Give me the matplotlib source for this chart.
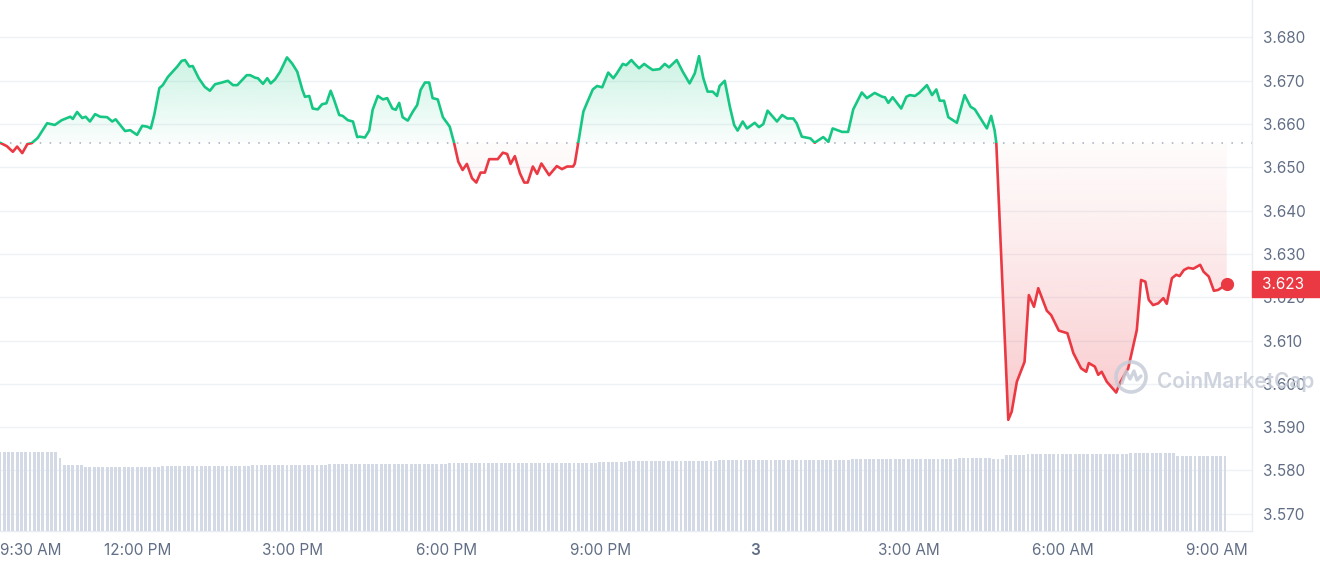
import numpy as np
import pandas as pd
import matplotlib
matplotlib.use("Agg")
import matplotlib.pyplot as plt
import matplotlib.dates as mdates
from matplotlib.patches import Rectangle, PathPatch, Circle
from matplotlib.path import Path
from matplotlib.transforms import blended_transform_factory, IdentityTransform
from matplotlib.colors import to_rgb
from bisect import bisect_right

plt.rcParams['font.family'] = ['Inter', 'DejaVu Sans']

# ---------------- data ----------------
start_time = "2025-01-02 09:19"
minutes = [
    0, 8, 15, 20, 26, 32, 37, 44, 55, 64,
    72, 82, 85, 90, 96, 100, 105, 111, 117, 125,
    131, 135, 146, 152, 160, 166, 172, 176, 180, 186,
    190, 196, 207, 212, 216, 221, 225, 232, 239, 245,
    251, 259, 266, 272, 277, 288, 292, 298, 301, 307,
    312, 316, 321, 327, 335, 341, 347, 353, 356, 361,
    365, 371, 376, 381, 386, 390, 396, 400, 406, 412,
    417, 420, 426, 431, 435, 441, 447, 452, 458, 462,
    466, 470, 476, 482, 487, 491, 496, 501, 505, 511,
    517, 525, 530, 535, 540, 545, 551, 556, 561, 566,
    571, 581, 587, 592, 596, 601, 607, 612, 616, 622,
    627, 632, 641, 650, 656, 662, 669, 671, 675, 681,
    685, 692, 697, 703, 710, 716, 720, 727, 731, 737,
    741, 746, 752, 756, 762, 770, 776, 781, 790, 797,
    805, 811, 816, 821, 826, 832, 837, 840, 846, 852,
    857, 861, 867, 872, 881, 886, 891, 896, 907, 913,
    919, 926, 930, 936, 946, 951, 961, 967, 972, 983,
    990, 996, 1006, 1012, 1021, 1030, 1033, 1037, 1042, 1052,
    1058, 1062, 1068, 1073, 1082, 1088, 1093, 1097, 1102, 1107,
    1117, 1126, 1133, 1138, 1146, 1152, 1157, 1161, 1163, 1177,
    1181, 1187, 1196, 1201, 1207, 1212, 1222, 1227, 1236, 1246,
    1253, 1262, 1268, 1271, 1278, 1282, 1286, 1292, 1303, 1307,
    1317, 1327, 1332, 1337, 1341, 1346, 1352, 1358, 1362, 1368,
    1373, 1377, 1382, 1387, 1393, 1401, 1405, 1411, 1417, 1422,
    1428, 1432,
]
price = [
    3.6557, 3.6549, 3.6536, 3.6548, 3.6533, 3.6554, 3.6556, 3.6568, 3.6602, 3.6598,
    3.6609, 3.6617, 3.6612, 3.6628, 3.6614, 3.6617, 3.6606, 3.6623, 3.6617, 3.6616,
    3.6606, 3.6611, 3.6584, 3.6586, 3.6575, 3.6596, 3.6594, 3.6590, 3.6621, 3.6683,
    3.6690, 3.6709, 3.6733, 3.6746, 3.6748, 3.6733, 3.6734, 3.6706, 3.6686, 3.6677,
    3.6692, 3.6696, 3.6700, 3.6690, 3.6690, 3.6713, 3.6713, 3.6707, 3.6706, 3.6693,
    3.6706, 3.6694, 3.6703, 3.6721, 3.6754, 3.6740, 3.6721, 3.6679, 3.6663, 3.6665,
    3.6636, 3.6634, 3.6646, 3.6648, 3.6677, 3.6656, 3.6621, 3.6619, 3.6609, 3.6606,
    3.6570, 3.6571, 3.6569, 3.6585, 3.6633, 3.6665, 3.6657, 3.6660, 3.6636, 3.6633,
    3.6649, 3.6616, 3.6608, 3.6629, 3.6644, 3.6679, 3.6696, 3.6696, 3.6660, 3.6657,
    3.6616, 3.6594, 3.6557, 3.6513, 3.6494, 3.6508, 3.6475, 3.6465, 3.6488, 3.6488,
    3.6519, 3.6519, 3.6534, 3.6531, 3.6508, 3.6526, 3.6486, 3.6465, 3.6465, 3.6502,
    3.6485, 3.6509, 3.6482, 3.6503, 3.6496, 3.6502, 3.6502, 3.6509, 3.6557, 3.6629,
    3.6648, 3.6680, 3.6688, 3.6685, 3.6719, 3.6706, 3.6717, 3.6739, 3.6736, 3.6748,
    3.6739, 3.6729, 3.6739, 3.6733, 3.6725, 3.6727, 3.6739, 3.6731, 3.6748, 3.6721,
    3.6694, 3.6717, 3.6757, 3.6706, 3.6675, 3.6675, 3.6665, 3.6688, 3.6700, 3.6640,
    3.6598, 3.6585, 3.6606, 3.6590, 3.6603, 3.6593, 3.6600, 3.6631, 3.6606, 3.6621,
    3.6613, 3.6613, 3.6602, 3.6571, 3.6567, 3.6557, 3.6570, 3.6559, 3.6590, 3.6582,
    3.6582, 3.6634, 3.6673, 3.6660, 3.6672, 3.6663, 3.6662, 3.6649, 3.6662, 3.6636,
    3.6663, 3.6667, 3.6665, 3.6672, 3.6690, 3.6667, 3.6680, 3.6654, 3.6654, 3.6616,
    3.6603, 3.6667, 3.6640, 3.6634, 3.6609, 3.6590, 3.6619, 3.6586, 3.6557, 3.5917,
    3.5936, 3.6005, 3.6051, 3.6205, 3.6178, 3.6221, 3.6169, 3.6159, 3.6123, 3.6117,
    3.6071, 3.6036, 3.6028, 3.6048, 3.6040, 3.6021, 3.6028, 3.6005, 3.5980, 3.6001,
    3.6036, 3.6124, 3.6240, 3.6236, 3.6194, 3.6182, 3.6186, 3.6198, 3.6185, 3.6244,
    3.6252, 3.6249, 3.6263, 3.6268, 3.6266, 3.6275, 3.6259, 3.6248, 3.6215, 3.6217,
    3.6225, 3.6230,
]
open_price = 3.6557
last_price_label = "3.623"

# volume (hidden scale): level starting at each segment start (minutes from start)
vol_seg_start = [0, 70, 75, 100, 190, 295, 385, 525, 700, 735, 840, 995, 1120, 1160, 1175, 1200, 1320, 1375]
vol_levels = [118.8, 109.3, 98.8, 96.2, 97.3, 98.8, 100.3, 102.2, 103.7, 105.3,
              106.3, 107.4, 108.9, 107.8, 113.9, 114.9, 116.4, 113.1]
vol_bar_minutes = list(range(0, 1431, 5))

y_ticks = [3.570, 3.580, 3.590, 3.600, 3.610, 3.620, 3.630, 3.640, 3.650, 3.660, 3.670, 3.680]
x_tick_times = ["2025-01-02 09:30", "2025-01-02 12:00", "2025-01-02 15:00", "2025-01-02 18:00",
                "2025-01-02 21:00", "2025-01-03 00:00", "2025-01-03 03:00", "2025-01-03 06:00",
                "2025-01-03 09:00"]
x_tick_labels = ["9:30 AM", "12:00 PM", "3:00 PM", "6:00 PM", "9:00 PM", "3", "3:00 AM", "6:00 AM", "9:00 AM"]
x_end_time = "2025-01-03 09:40:30"

# ---------------- styles ----------------
GREEN = "#16c784"
RED = "#ea3943"
GRID = "#eff2f5"
LABEL = "#616e85"
BAR = "#d3dae6"
WM = "#c6ccd8"

W, H = 1320, 568
fig = plt.figure(figsize=(W / 100, H / 100), dpi=100)
ax = fig.add_axes([0, 37.5 / H, 1252 / W, 1 - 37.5 / H])

t0 = pd.Timestamp(start_time)
times = t0 + pd.to_timedelta(minutes, unit="m")
x = mdates.date2num(times.to_pydatetime())
p = np.array(price)
xmin = mdates.date2num(t0.to_pydatetime())
xmax = mdates.date2num(pd.Timestamp(x_end_time).to_pydatetime())
ymin, ymax = 3.56614, 3.68866

# volume bars on a hidden twin axis
ax2 = ax.twinx()
bt = t0 + pd.to_timedelta(vol_bar_minutes, unit="m")
bx = mdates.date2num(bt.to_pydatetime())
vols = [vol_levels[bisect_right(vol_seg_start, m) - 1] for m in vol_bar_minutes]
ax2.bar(bx, vols, width=3.4 / 1440, color=BAR, align="center", linewidth=0)
ax2.set_ylim(0, 800)
ax2.set_yticks([])
for s in ax2.spines.values():
    s.set_visible(False)


def gradient_fill(above, color, a0, a1, gamma=1.0):
    where = p >= open_price if above else p <= open_price
    coll = ax.fill_between(x, p, open_price, where=where, interpolate=True, lw=0, color="none")
    path = Path.make_compound_path(*coll.get_paths())
    coll.remove()
    n = 256
    frac = np.linspace(0, 1, n) ** gamma
    alpha = a0 + (a1 - a0) * frac
    rgba = np.zeros((n, 1, 4))
    rgba[..., :3] = to_rgb(color)
    if above:
        rgba[:, 0, 3] = alpha
        ext = [x[0], x[-1], open_price, p.max()]
    else:
        rgba[:, 0, 3] = alpha[::-1]
        ext = [x[0], x[-1], p.min(), open_price]
    im = ax.imshow(rgba, extent=ext, origin="lower", aspect="auto", zorder=1,
                   interpolation="bilinear")
    im.set_clip_path(PathPatch(path, transform=ax.transData, fc="none", ec="none"))


gradient_fill(True, GREEN, 0.02, 0.22)
gradient_fill(False, RED, 0.02, 0.28, gamma=1.2)

# price line, colored above/below open price
blend = blended_transform_factory(ax.transAxes, ax.transData)
for color, clip in [(GREEN, Rectangle((0, open_price), 1, 1, transform=blend)),
                    (RED, Rectangle((0, open_price - 1), 1, 1, transform=blend))]:
    ln, = ax.plot(x, p, color=color, lw=1.9, solid_joinstyle="round", solid_capstyle="round", zorder=3)
    ln.set_clip_path(clip)

ax.axhline(open_price, color="#a3abbd", lw=1.1, ls=(0, (1, 5.5)), zorder=2)
ax.plot([x[-1]], [p[-1]], "o", ms=8.5, color=RED, zorder=4, clip_on=False)

ax.set_xlim(xmin, xmax)
ax.set_ylim(ymin, ymax)

# axes styling
ax.yaxis.tick_right()
ax.set_yticks(y_ticks)
ax.set_yticklabels([f"{v:.3f}" for v in y_ticks])
ax.grid(axis="y", color=GRID, lw=1, zorder=0)
ax.set_axisbelow(True)
tick_x = mdates.date2num(pd.to_datetime(x_tick_times).to_pydatetime())
ax.set_xticks(tick_x)
ax.set_xticklabels([""] + x_tick_labels[1:])
ax.tick_params(axis="both", length=0, labelsize=11, labelcolor=LABEL)
ax.tick_params(axis="y", pad=8)
ax.tick_params(axis="x", pad=9)
for lbl, txt in zip(ax.get_xticklabels(), [""] + x_tick_labels[1:]):
    if txt == "3":
        lbl.set_fontweight("semibold")
ax.annotate(x_tick_labels[0], xy=(0, 0), xycoords="axes fraction", xytext=(0, -9),
            textcoords="offset points", ha="left", va="top", fontsize=11, color=LABEL)
for side in ["top", "left"]:
    ax.spines[side].set_visible(False)
for side in ["right", "bottom"]:
    ax.spines[side].set_color("#e9edf2")
    ax.spines[side].set_linewidth(1)

# last price tag
ax.add_patch(Rectangle((1.0, p[-1] - 0.0030), 68 / 1252, 0.0060, transform=blend,
                       color=RED, clip_on=False, zorder=5))
ax.text(1.0 + 10 / 1252, p[-1], last_price_label, transform=blend, ha="left", va="center",
        color="white", fontsize=11, zorder=6, clip_on=False)

# watermark
fig.text(1157 / W, 1 - 381 / H, "CoinMarketCap", fontsize=15, fontweight="semibold",
         color=WM, alpha=0.85, ha="left", va="center", zorder=10)
cx, cy = 1131, H - 377
fig.add_artist(Circle((cx, cy), 15, fill=False, lw=2.6, ec=WM, alpha=0.85,
                      transform=IdentityTransform(), zorder=10))
wave = Path([(cx - 9, cy - 6), (cx - 5, cy + 6), (cx - 1, cy - 2), (cx + 3, cy + 6),
             (cx + 6, cy - 3), (cx + 10, cy + 1)])
fig.add_artist(PathPatch(wave, fill=False, lw=2.4, ec=WM, alpha=0.85, joinstyle="round",
                         capstyle="round", transform=IdentityTransform(), zorder=10))

fig.savefig("out.png", dpi=100)
